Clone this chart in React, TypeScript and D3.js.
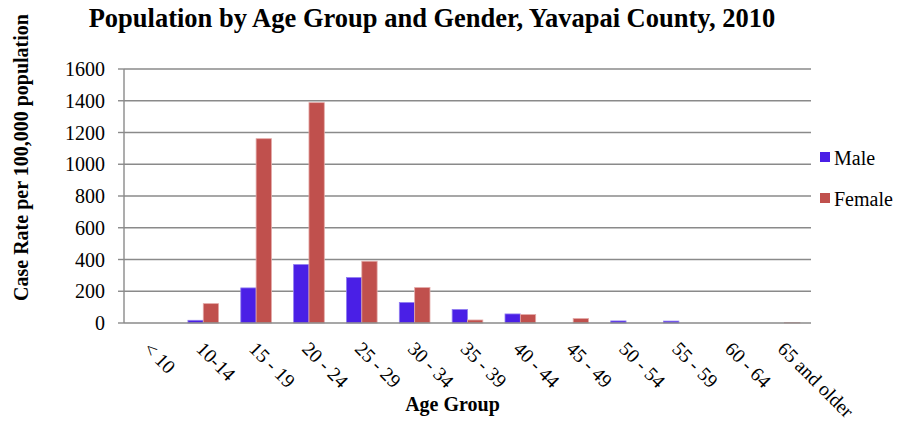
import React from "react";
import * as d3 from "d3";

const categories = ["< 10", "10-14", "15 - 19", "20 - 24", "25 - 29", "30 - 34", "35 - 39", "40 - 44", "45 - 49", "50 - 54", "55 - 59", "60 - 64", "65 and older"];
const maleValues = [0, 17, 221, 368, 286, 129, 85, 57, 0, 13, 12, 0, 0];
const femaleValues = [0, 122, 1161, 1388, 389, 223, 19, 53, 28, 0, 0, 0, 3];
const yTicks = [0, 200, 400, 600, 800, 1000, 1200, 1400, 1600];
const seriesNames = ["Male", "Female"];
const seriesColors = ["#4a1fe6", "#c0504d"];
const seriesStroke = ["#8f7cf0", "#e3a9a7"];

const W = 901;
const H = 423;
const M = { left: 124, right: 811, top: 69, bottom: 323 };
const FONT = '"Liberation Serif", "DejaVu Serif", serif';

export default function App() {
  const x = d3.scaleBand<string>().domain(categories).range([M.left, M.right]).paddingInner(0).paddingOuter(0);
  const y = d3.scaleLinear().domain([0, 1600]).range([M.bottom, M.top]);
  const bw = x.bandwidth() * 0.29;
  const series = [maleValues, femaleValues];

  return (
    <svg width={W} height={H} style={{ position: "absolute", left: 0, top: 0, background: "#fff", fontFamily: FONT }}>
      <rect x={0} y={0} width={W} height={H} fill="#fff" />
      <text x={432} y={27} textAnchor="middle" fontWeight="bold" fontSize={26.5} style={{ fontFamily: FONT }}>
        Population by Age Group and Gender, Yavapai County, 2010
      </text>
      {yTicks.map((t) => (
        <g key={t}>
          {t > 0 && <line x1={M.left} x2={M.right} y1={y(t)} y2={y(t)} stroke="#8a8a8a" strokeWidth={1.4} />}
          <line x1={M.left - 6} x2={M.left} y1={y(t)} y2={y(t)} stroke="#8a8a8a" strokeWidth={1.4} />
          <text x={105} y={y(t)} dy="0.35em" textAnchor="end" fontSize={20} style={{ fontFamily: FONT }}>{t}</text>
        </g>
      ))}
      {categories.map((c, i) => (
        <g key={c}>
          {series.map((vals, s) => {
            const v = vals[i];
            if (v <= 0) return null;
            const cx = (x(c) as number) + x.bandwidth() / 2;
            const bx = cx - bw + s * bw;
            return (
              <rect key={s} x={bx} y={y(v)} width={bw} height={y(0) - y(v)} fill={seriesColors[s]} stroke={seriesStroke[s]} strokeWidth={0.8} />
            );
          })}
        </g>
      ))}
      <line x1={M.left} x2={M.left} y1={M.top} y2={M.bottom} stroke="#8a8a8a" strokeWidth={1.4} />
      <line x1={M.left} x2={M.right} y1={M.bottom} y2={M.bottom} stroke="#8a8a8a" strokeWidth={1.4} />
      {categories.map((c) => {
        const cx = (x(c) as number) + x.bandwidth() / 2;
        return (
          <text key={c} transform={`translate(${cx - 8},${350}) rotate(45)`} fontSize={19.5} style={{ fontFamily: FONT }}>{c}</text>
        );
      })}
      <text x={452.5} y={411} textAnchor="middle" fontWeight="bold" fontSize={20} style={{ fontFamily: FONT }}>Age Group</text>
      <text transform={`translate(28,157.5) rotate(-90)`} textAnchor="middle" fontWeight="bold" fontSize={20} style={{ fontFamily: FONT }}>
        Case Rate per 100,000 population
      </text>
      {seriesNames.map((n, s) => (
        <g key={n} transform={`translate(820,${152 + s * 41})`}>
          <rect x={0} y={0} width={10} height={10} fill={seriesColors[s]} />
          <text x={14} y={13} fontSize={20} style={{ fontFamily: FONT }}>{n}</text>
        </g>
      ))}
    </svg>
  );
}
